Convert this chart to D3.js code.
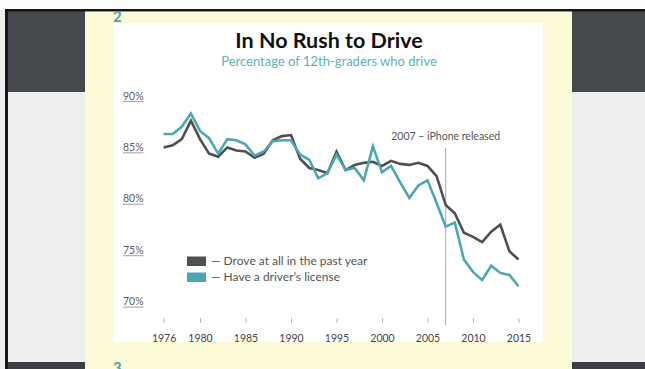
<!DOCTYPE html>
<html>
<head>
<meta charset="utf-8">
<script src="https://cdn.jsdelivr.net/npm/d3@7"></script>
<style>
  body { margin: 0; background: #fff; }
  svg { display: block; font-family: Lato, 'Open Sans', sans-serif; }
</style>
</head>
<body>
<div id="chart"></div>
<script>
// values
var years = [1976, 1977, 1978, 1979, 1980, 1981, 1982, 1983, 1984, 1985,
    1986, 1987, 1988, 1989, 1990, 1991, 1992, 1993, 1994, 1995,
    1996, 1997, 1998, 1999, 2000, 2001, 2002, 2003, 2004, 2005,
    2006, 2007, 2008, 2009, 2010, 2011, 2012, 2013, 2014, 2015];
var drove = [85.0, 85.2, 85.8, 87.6, 85.8, 84.4, 84.1, 85.0, 84.7, 84.6,
    84.0, 84.4, 85.7, 86.1, 86.2, 83.9, 83.0, 82.8, 82.5, 84.6,
    82.8, 83.3, 83.5, 83.6, 83.2, 83.7, 83.4, 83.3, 83.5, 83.2,
    82.2, 79.4, 78.6, 76.7, 76.3, 75.8, 76.8, 77.5, 74.9, 74.1];
var license = [86.3, 86.3, 87.0, 88.3, 86.6, 85.9, 84.4, 85.8, 85.7, 85.3,
    84.2, 84.6, 85.6, 85.7, 85.7, 84.3, 83.8, 82.0, 82.5, 84.3,
    82.8, 83.0, 81.8, 85.1, 82.6, 83.2, 81.6, 80.1, 81.3, 81.8,
    79.6, 77.3, 77.7, 74.1, 72.9, 72.1, 73.5, 72.8, 72.6, 71.5];
var yTicks = [70, 75, 80, 85, 90];
var xTicks = [1976, 1980, 1985, 1990, 1995, 2000, 2005, 2010, 2015];
var seriesNames = ['Drove at all in the past year', "Have a driver\u2019s license"];
var iphoneYear = 2007;

var W = 645, H = 369;
var darkLine = '#4f4f51', teal = '#4aa8b0';

var svg = d3.select('#chart')
    .append('svg')
    .attr('width', W)
    .attr('height', H);

// page / slide backdrop
svg.append('rect').attr('x', 0).attr('y', 0).attr('width', W).attr('height', H).attr('fill', '#eeeeee');
svg.append('rect').attr('x', 0).attr('y', 0).attr('width', W).attr('height', 10).attr('fill', '#fdfdfd');
svg.append('rect').attr('x', 5).attr('y', 11).attr('width', W - 5).attr('height', 81).attr('fill', '#45484d');
svg.append('rect').attr('x', 5).attr('y', 9).attr('width', W - 5).attr('height', 2.5).attr('fill', '#161616');
svg.append('rect').attr('x', 5).attr('y', 362).attr('width', W - 5).attr('height', 7).attr('fill', '#3b3e43');
svg.append('rect').attr('x', 5).attr('y', 9).attr('width', 3).attr('height', H - 9).attr('fill', '#161616');

// yellow card + white chart panel
svg.append('rect').attr('x', 85).attr('y', 11.5).attr('width', 487).attr('height', H - 11.5).attr('fill', '#fdfbd7');
svg.append('rect').attr('x', 113).attr('y', 23).attr('width', 430).attr('height', 319).attr('fill', '#ffffff');

// slide numbers, partly hidden by the window edges as in the screenshot
svg.append('text').attr('x', 113).attr('y', 22)
    .attr('font-size', 15).attr('font-weight', 700).attr('fill', '#4aa3ab')
    .text('2');
svg.append('text').attr('x', 113).attr('y', 373)
    .attr('font-size', 15).attr('font-weight', 700).attr('fill', '#4aa3ab')
    .text('3');

// titles
svg.append('text').attr('x', 329).attr('y', 48)
    .attr('text-anchor', 'middle').attr('font-size', 21.5).attr('font-weight', 700).attr('fill', '#111')
    .text('In No Rush to Drive');
svg.append('text').attr('x', 329).attr('y', 66)
    .attr('text-anchor', 'middle').attr('font-size', 13).attr('fill', '#5ab4b9')
    .text('Percentage of 12th-graders who drive');

var x = d3.scaleLinear().domain([1980, 2015]).range([200, 518.5]);
var y = d3.scaleLinear().domain([70, 90]).range([301.7, 96]);

// y labels (underlined)
var yl = svg.append('g').selectAll('g')
    .data(yTicks)
    .enter()
    .append('g')
        .attr('transform', function(d) { return 'translate(123,' + y(d) + ')'; });
yl.append('text')
    .attr('y', 3.6)
    .attr('font-size', 10.5)
    .attr('fill', '#606060')
    .text(function(d) { return d + '%'; });
yl.append('line')
    .attr('x1', 0).attr('x2', 20.5)
    .attr('y1', 5.4).attr('y2', 5.4)
    .attr('stroke', '#8a8a8a').attr('stroke-width', 0.8);

// x axis
var xAxis = svg.append('g')
    .attr('transform', 'translate(0,318)')
    .call(d3.axisBottom(x).tickValues(xTicks).tickFormat(d3.format('d')).tickSize(5).tickPadding(12));
xAxis.select('.domain').remove();
xAxis.selectAll('line').attr('stroke', '#bbbbbb');
xAxis.selectAll('text')
    .attr('font-family', 'Lato, sans-serif')
    .attr('font-size', 10.5)
    .attr('fill', '#444');

// iPhone marker
svg.append('line')
    .attr('x1', x(iphoneYear)).attr('x2', x(iphoneYear))
    .attr('y1', 148).attr('y2', 325)
    .attr('stroke', '#a8a8a8').attr('stroke-width', 1);
svg.append('text')
    .attr('x', x(iphoneYear)).attr('y', 139.5)
    .attr('text-anchor', 'middle').attr('font-size', 10.5).attr('fill', '#555')
    .text(iphoneYear + ' \u2013 iPhone released');

// lines
var line = d3.line()
    .x(function(d, i) { return x(years[i]); })
    .y(function(d) { return y(d); });

svg.append('path')
    .datum(drove)
    .attr('d', line)
    .attr('fill', 'none')
    .attr('stroke', darkLine)
    .attr('stroke-width', 2.6);
svg.append('path')
    .datum(license)
    .attr('d', line)
    .attr('fill', 'none')
    .attr('stroke', teal)
    .attr('stroke-width', 2.6);

// legend
var lg = svg.append('g').selectAll('g')
    .data(seriesNames)
    .enter()
    .append('g')
        .attr('transform', function(d, i) { return 'translate(187,' + (256.5 + i * 16) + ')'; });
lg.append('rect')
    .attr('width', 19).attr('height', 9.5)
    .attr('fill', function(d, i) { return i === 0 ? '#505052' : '#4ba8b2'; });
lg.append('text')
    .attr('x', 24).attr('y', 8.8)
    .attr('font-size', 12).attr('fill', '#555')
    .text(function(d) { return '\u2014 ' + d; });
</script>
</body>
</html>
